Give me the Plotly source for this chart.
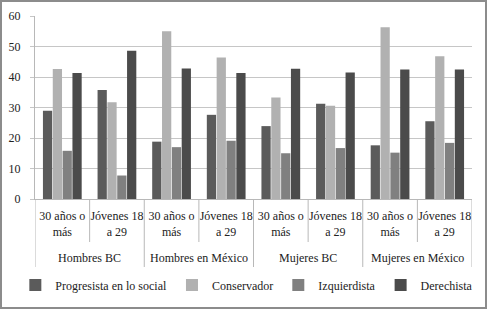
import plotly.graph_objects as go

groups = ["Hombres BC", "Hombres en México", "Mujeres BC", "Mujeres en México"]
ages = ["30 años o<br>más", "Jóvenes 18<br>a 29"]
categories = [f"{g} | {a}" for g in groups for a in ages]
age_labels = [a for g in groups for a in ages]

series_names = ["Progresista en lo social", "Conservador", "Izquierdista", "Derechista"]
progresista = [28.9, 35.7, 18.8, 27.6, 23.9, 31.2, 17.6, 25.5]
conservador = [42.6, 31.7, 55.0, 46.4, 33.3, 30.6, 56.3, 46.8]
izquierdista = [15.8, 7.7, 17.0, 19.1, 15.0, 16.7, 15.2, 18.4]
derechista = [41.3, 48.6, 42.8, 41.3, 42.7, 41.5, 42.5, 42.5]
values = [progresista, conservador, izquierdista, derechista]
colors = ["#5b5b5b", "#b1b1b1", "#808080", "#4b4b4b"]

FONT = "Liberation Serif, DejaVu Serif, serif"
TXT = "#222222"
LINE = "#b8b8b8"

fig = go.Figure()
for name, vals, col in zip(series_names, values, colors):
    fig.add_trace(go.Bar(
        x=categories, y=vals, name=name,
        marker=dict(color=col, line=dict(width=0)),
    ))

W, H = 487, 309
ml, mr, mt, mb = 35, 15, 16, 110
pw, ph = W - ml - mr, H - mt - mb

shapes = [dict(type="rect", xref="paper", yref="paper",
               x0=-(ml - 1) / pw, x1=1 + (mr - 1) / pw,
               y0=-(mb - 1) / ph, y1=1 + (mt - 1) / ph,
               line=dict(color="#8c8c8c", width=2), layer="below")]
n = len(categories)
for i in range(n + 1):
    xpos = i - 0.5
    outer = (i % len(ages) == 0)
    shapes.append(dict(type="line", xref="x", yref="paper", x0=xpos, x1=xpos,
                       y0=0, y1=-(68 if outer else 43) / ph,
                       line=dict(color=LINE, width=1)))

annotations = []
for gi, g in enumerate(groups):
    center = gi * len(ages) + (len(ages) - 1) / 2
    annotations.append(dict(x=center, xref="x", y=-59 / ph, yref="paper",
                            text=g, showarrow=False, xanchor="center", yanchor="middle",
                            font=dict(family=FONT, size=12, color=TXT)))

fig.update_layout(
    width=W, height=H,
    margin=dict(l=ml, r=mr, t=mt, b=mb, autoexpand=False),
    paper_bgcolor="white", plot_bgcolor="white",
    barmode="group", bargap=0.28, bargroupgap=0.06,
    font=dict(family=FONT, size=12, color=TXT),
    showlegend=True,
    legend=dict(orientation="h", x=-0.045, xanchor="left", y=-86 / ph, yanchor="middle",
                font=dict(family=FONT, size=12, color=TXT),
                itemwidth=30, traceorder="normal", bgcolor="rgba(0,0,0,0)"),
    xaxis=dict(type="category", range=[-0.5, n - 0.5], automargin=False,
               tickmode="array", tickvals=categories, ticktext=age_labels, tickangle=0,
               showline=True, linecolor=LINE, linewidth=1, ticks="",
               ticklabelstandoff=6,
               tickfont=dict(family=FONT, size=12, color=TXT), showgrid=False),
    yaxis=dict(range=[0, 60], dtick=10, showgrid=True, gridcolor="#c6c6c6", gridwidth=1,
               showline=True, linecolor=LINE, linewidth=1, automargin=False,
               ticks="outside", ticklen=4, tickcolor="#c6c6c6",
               ticklabelstandoff=7,
               tickfont=dict(family=FONT, size=12, color=TXT), zeroline=False),
    shapes=shapes,
    annotations=annotations,
)

fig.write_html("out.html", config={"displayModeBar": False},
               post_script="document.body.style.margin='0';document.body.style.padding='0';")
